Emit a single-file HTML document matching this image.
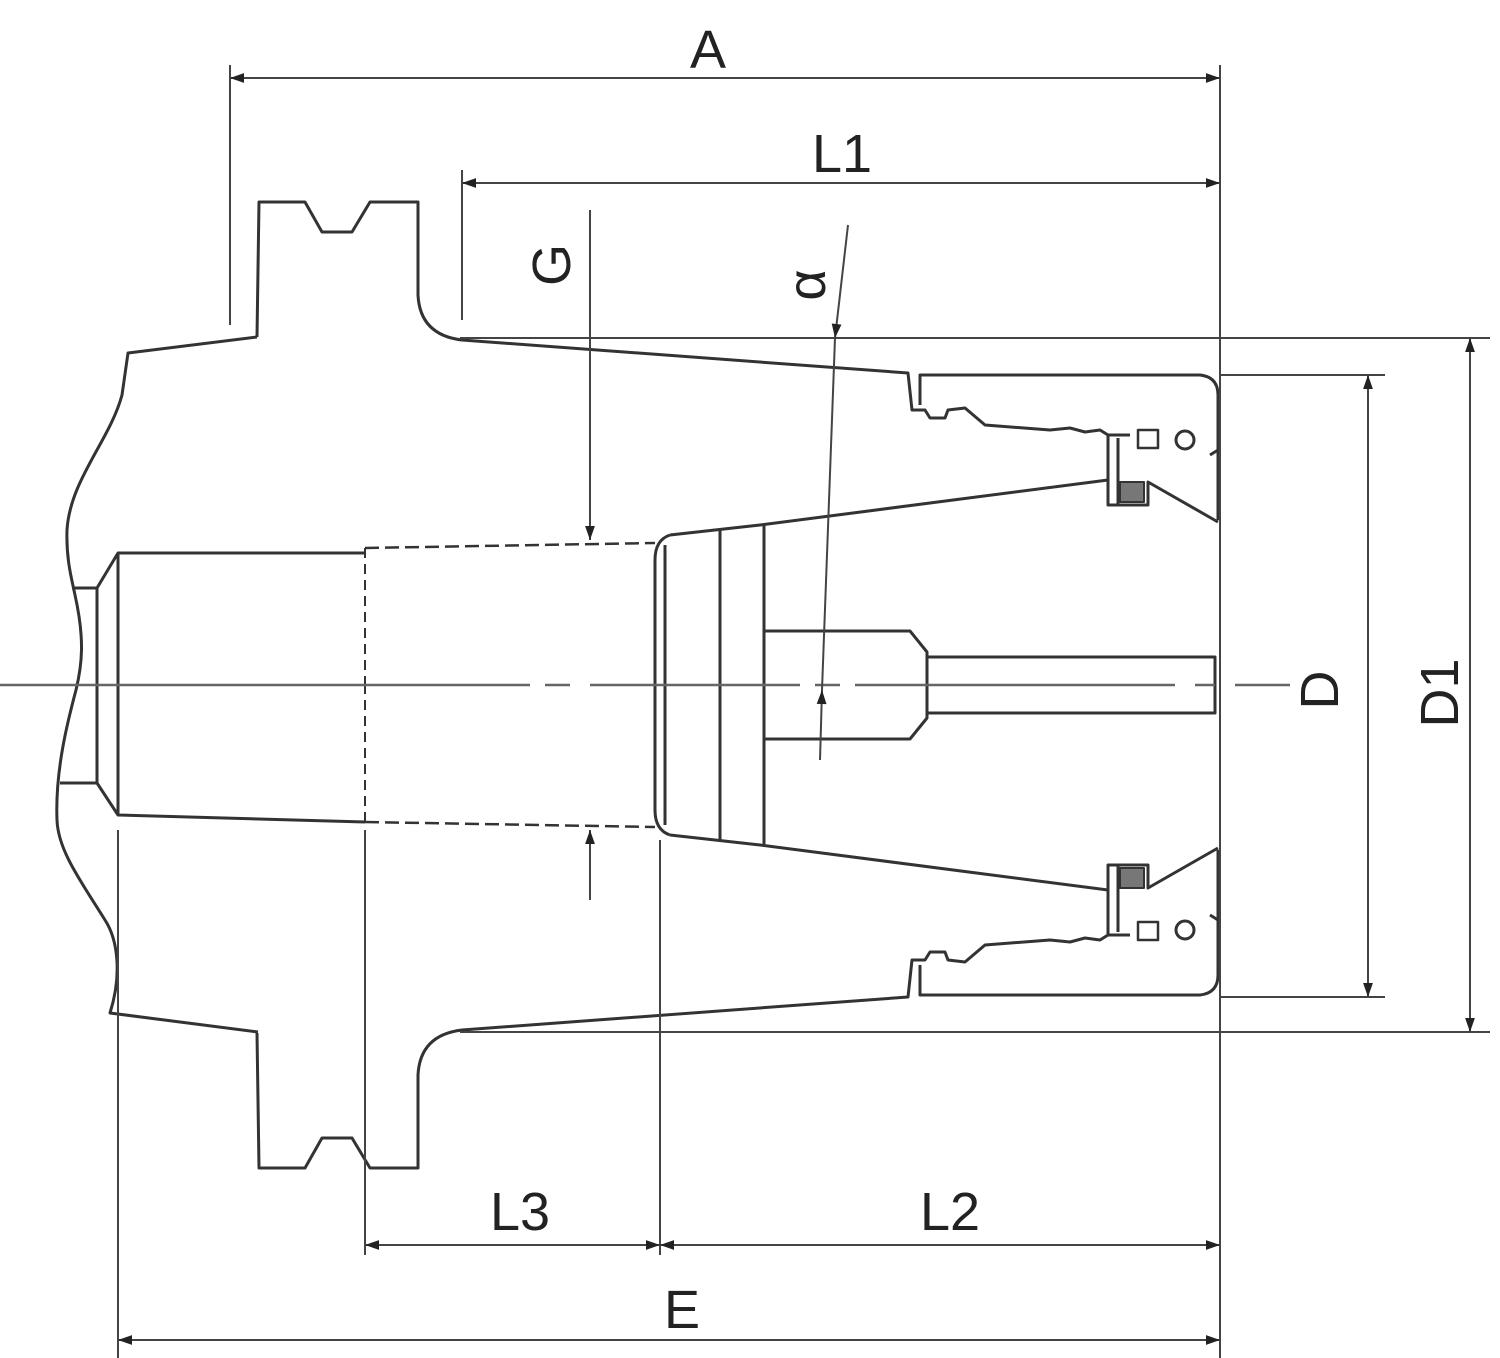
<!DOCTYPE html>
<html><head><meta charset="utf-8"><style>html,body{margin:0;padding:0;background:#fff}svg{display:block}</style></head>
<body>
<svg width="1500" height="1358" viewBox="0 0 1500 1358" xmlns="http://www.w3.org/2000/svg">
<defs>
<marker id="ar" viewBox="0 0 10 10" refX="10" refY="5" markerWidth="40" markerHeight="14" markerUnits="userSpaceOnUse" orient="auto-start-reverse">
<path d="M0,1.5 L10,5 L0,8.5 z" fill="#222"/></marker>
<g id="half" fill="none" stroke="#333" stroke-width="3" stroke-linejoin="round">
  <path d="M257,337 L259,202 L305,202 L322,232 L352,232 L370,202 L418,202 L418,295 Q420,335 462,340 L908,373 L912,410 L925,410 L930,418 L945,418 L948,410 L965,408 L985,425 L1050,430 L1070,428 L1085,432 L1100,430 L1108,435"/>
  <path d="M920,405 L920,375 L1200,375 Q1218,377 1218,395 L1218,520"/>
  <path d="M1108,435 L1108,505 L1148,505 L1148,482 L1218,522"/>
  <path d="M1118,438 L1118,505"/>
  <rect x="1120" y="482" width="24" height="20" fill="#777" stroke="#333" stroke-width="2"/>
  <path d="M1108,435 L1130,435 M1210,455 L1218,450"/>
  <rect x="1138" y="430" width="20" height="18" stroke-width="2.5"/>
  <circle cx="1185" cy="440" r="9" stroke-width="3"/>
  <path d="M670,535 L760,525 L1108,480"/>
  <path d="M365,548 L655,543" stroke-dasharray="14,6" stroke-width="2.5"/>
  <path d="M365,548 L365,685" stroke-dasharray="10,6" stroke-width="2"/>
  <path d="M670,535 Q655,540 655,560 L655,685 M665,545 L665,685 M720,530 L720,685 M764,525 L764,685"/>
  <path d="M764,631 L910,631 L927,652 L927,685 M927,657 L1215,657 L1215,685"/>
</g>
</defs>
<use href="#half"/>
<use href="#half" transform="matrix(1,0,0,-1,0,1370)"/>
<g fill="none" stroke="#333" stroke-width="3" stroke-linejoin="round">
  <path d="M257,337 L128,353 L122,395 C110,440 70,480 67,530 C66,560 72,580 75,595 C85,640 82,665 76,690 C68,720 55,770 57,820 C58,850 80,880 105,920 C118,940 122,975 110,1013 L258,1032"/>
  <path d="M365,553 L118,553 L97,588 L72,588 M97,588 L97,783 L60,783 M97,783 L118,815 L365,822 M118,553 L118,815"/>
</g>
<g fill="none" stroke="#444" stroke-width="2">
  <path d="M0,685 L530,685 M545,685 L570,685 M590,685 L800,685 M815,685 L840,685 M855,685 L1175,685 M1195,685 L1215,685 M1235,685 L1290,685" stroke="#666" stroke-width="2.5"/>
  <path d="M230,65 L230,325 M462,170 L462,320 M1220,65 L1220,1358 M118,830 L118,1358 M365,830 L365,1255 M660,840 L660,1255"/>
  <path d="M1220,375 L1385,375 M1220,997 L1385,997 M460,338 L1490,338 M460,1032 L1490,1032"/>
  <path d="M230,78 L1220,78" marker-start="url(#ar)" marker-end="url(#ar)"/>
  <path d="M462,183 L1220,183" marker-start="url(#ar)" marker-end="url(#ar)"/>
  <path d="M365,1245 L660,1245" marker-start="url(#ar)" marker-end="url(#ar)"/>
  <path d="M660,1245 L1220,1245" marker-start="url(#ar)" marker-end="url(#ar)"/>
  <path d="M118,1340 L1220,1340" marker-start="url(#ar)" marker-end="url(#ar)"/>
  <path d="M1368,375 L1368,997" marker-start="url(#ar)" marker-end="url(#ar)"/>
  <path d="M1470,338 L1470,1032" marker-start="url(#ar)" marker-end="url(#ar)"/>
  <path d="M590,210 L590,540" marker-end="url(#ar)"/>
  <path d="M590,900 L590,830" marker-end="url(#ar)"/>
  <path d="M848,225 L835,338" marker-end="url(#ar)"/>
  <path d="M820,760 L822,690" marker-end="url(#ar)"/>
  <path d="M835,338 L822,690"/>
</g>
<g font-family="Liberation Sans, sans-serif" font-size="54" fill="#222" text-anchor="middle">
  <text x="708" y="68">A</text>
  <text x="842" y="172">L1</text>
  <text x="520" y="1230">L3</text>
  <text x="950" y="1230">L2</text>
  <text x="682" y="1328">E</text>
  <text transform="translate(570,265) rotate(-90)">G</text>
  <text transform="translate(825,285) rotate(-90)">α</text>
  <text transform="translate(1338,690) rotate(-90)">D</text>
  <text transform="translate(1458,693) rotate(-90)">D1</text>
</g>
</svg>
</body></html>
